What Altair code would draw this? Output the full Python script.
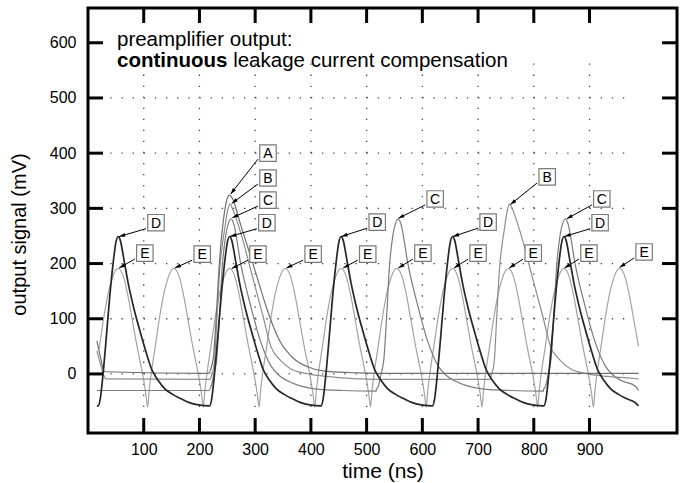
import math
import altair as alt
import pandas as pd

# ---------------- data ----------------
x_ticks = [100, 200, 300, 400, 500, 600, 700, 800, 900]
y_ticks = [0, 100, 200, 300, 400, 500, 600]
grid_rows = [0, 100, 200, 300, 400, 500]
grid_cols = [100, 200, 300, 400, 500, 600, 700, 800, 900]

# pulse peak times (ns)
peaks_A = [254]
peaks_B = [255, 757]
peaks_C = [257, 557, 857]
peaks_D = [54, 254, 454, 654, 854]
peaks_E = [54, 154, 254, 354, 454, 554, 654, 754, 854, 954]

# pulse shapes: time from peak (ns), value (mV)
A_dt = [-38, -34, -29, -24, -19, -12, -5, 0, 5, 20, 45, 68, 90, 115, 140, 170, 230, 300]
A_v = [1, 8, 30, 100, 190, 270, 315, 324, 318, 270, 190, 115, 60, 28, 13, 5, 2, 1]
B_dt = [-36, -33, -28, -24, -19, -10, -4, 0, 4, 19, 40, 59, 73, 90, 109, 135, 168, 230, 300]
B_v = [-10, -2, 22, 94, 184, 261, 298, 308, 300, 256, 177, 105, 50, 25, 9, 1, -4, -9, -10]
C_dt = [-40, -36, -31, -26, -21, -16, -10, -4, 0, 5, 17, 35, 53, 71, 85, 100, 125, 150, 200, 260]
C_v = [-30, -22, 0, 27, 105, 195, 250, 276, 281, 270, 200, 123, 58, 15, -2, -12, -22, -27, -30, -31]
D_dt = [-36, -32, -27, -21, -15, -9, -4, 0, 4, 10, 18, 28, 40, 50, 60, 72, 84, 98, 113, 128, 144, 164]
D_v = [-58, -45, 0, 68, 140, 200, 238, 249, 242, 210, 165, 120, 75, 40, 9, -12, -27, -37, -45, -52, -56, -58]
E_dt = [-47, -44, -40, -34, -26, -18, -10, -5, 0, 5, 10, 18, 26, 34, 42, 47, 50, 53]
E_v = [-60, -28, 5, 45, 100, 145, 175, 187, 191, 187, 175, 140, 95, 50, 10, -18, -38, -60]

# start of the traces (left edge) and baselines
A_start_t = [16, 22, 30];  A_start_v = [60, 32, 4]
B_start_t = [16, 24, 32];  B_start_v = [42, 12, -9]
C_start_t = [16];          C_start_v = [-30]
D_start_t = [16];          D_start_v = [-58]
E_start_t = [];            E_start_v = []
baseline = {"A": 1, "B": -10, "C": -30, "D": -58, "E": None}

# letter labels: letter, arrow tip (t, mV), box centre (t, mV)
lab_letter = ["D", "E", "E", "A", "B", "C", "D", "E", "E", "D", "E", "C", "E",
              "D", "E", "B", "E", "C", "D", "E", "E"]
lab_tip_t = [56, 56, 156, 256, 258, 259, 255, 258, 356, 455, 458, 557, 557,
             655, 657, 758, 756, 859, 855, 855, 954]
lab_tip_v = [249, 192, 192, 326, 309, 283, 249, 191, 192, 249, 192, 282, 192,
             249, 192, 307, 192, 281, 249, 192, 193]
lab_box_t = [122, 102, 205, 323, 323, 323, 321, 305, 404, 519, 502, 623, 601,
             718, 700, 824, 799, 922, 919, 899, 998]
lab_box_v = [274, 219, 217, 400, 355, 315, 274, 217, 217, 275, 217, 317, 219,
             275, 219, 357, 219, 317, 274, 219, 221]

title_line1 = "preamplifier output:"
title_bold = "continuous"
title_rest = "leakage current compensation"

# ---------------- layout ----------------
W, H = 589, 425
XMIN, XMAX = 0, 1057
YMIN, YMAX = -107, 663
T0, T1 = 16, 988
sx = W / (XMAX - XMIN)
sy = H / (YMAX - YMIN)
FONT = "Liberation Sans"

xs = alt.Scale(domain=[XMIN, XMAX], nice=False, zero=False)
ys = alt.Scale(domain=[YMIN, YMAX], nice=False, zero=False)


def build(name, start_t, start_v, peaks, dts, vs):
    pts = list(zip(start_t, start_v))
    for p in peaks:
        for d, v in zip(dts, vs):
            pts.append((p + d, v))
    if baseline[name] is not None:
        pts.append((T1, baseline[name]))
    pts = [(t, v) for t, v in pts if T0 <= t <= T1]
    pts.sort(key=lambda a: a[0])
    return pd.DataFrame({"t": [a[0] for a in pts], "v": [a[1] for a in pts]})


traces = {
    "A": build("A", A_start_t, A_start_v, peaks_A, A_dt, A_v),
    "B": build("B", B_start_t, B_start_v, peaks_B, B_dt, B_v),
    "C": build("C", C_start_t, C_start_v, peaks_C, C_dt, C_v),
    "D": build("D", D_start_t, D_start_v, peaks_D, D_dt, D_v),
    "E": build("E", E_start_t, E_start_v, peaks_E, E_dt, E_v),
}
styles = {"E": ("#a3a3a3", 1.2), "C": ("#7c7c7c", 1.2), "B": ("#8e8e8e", 1.2),
          "A": ("#707070", 1.2), "D": ("#262626", 1.7)}

# grid (dotted lattice)
rows_df = pd.DataFrame({"v": grid_rows, "t0": [20] * len(grid_rows), "t1": [980] * len(grid_rows)})
cols_df = pd.DataFrame({"t": grid_cols, "v0": [-60] * len(grid_cols), "v1": [580] * len(grid_cols)})

base_axes = alt.Chart(pd.DataFrame({"t": [XMIN, XMAX], "v": [YMIN, YMAX]})).mark_point(opacity=0).encode(
    x=alt.X("t:Q", scale=xs, axis=alt.Axis(values=x_ticks, ticks=False, domain=False, grid=False,
                                           labelFont=FONT, labelFontSize=16, labelColor="black",
                                           labelPadding=8, title="time (ns)", titleFont=FONT,
                                           titleFontSize=21, titleFontWeight="normal",
                                           titleColor="black", titlePadding=3)),
    y=alt.Y("v:Q", scale=ys, axis=alt.Axis(values=y_ticks, ticks=False, domain=False, grid=False,
                                           labelFont=FONT, labelFontSize=16, labelColor="black",
                                           labelPadding=12, title="output signal (mV)",
                                           titleFont=FONT, titleFontSize=20,
                                           titleFontWeight="normal", titleColor="black",
                                           titleX=-69, titleY=226, titleBaseline="middle",
                                           titleAlign="center")),
)

grid_h = alt.Chart(rows_df).mark_rule(color="#444", strokeWidth=1.3,
                                      strokeDash=[1.3, 20 * sx - 1.3]).encode(
    x=alt.X("t0:Q", scale=xs, axis=None), x2="t1:Q", y=alt.Y("v:Q", scale=ys, axis=None))
grid_v = alt.Chart(cols_df).mark_rule(color="#444", strokeWidth=1.3,
                                      strokeDash=[1.3, 20 * sy - 1.3]).encode(
    x=alt.X("t:Q", scale=xs, axis=None), y=alt.Y("v0:Q", scale=ys, axis=None), y2="v1:Q")

# inside ticks
tx = pd.DataFrame({"t": x_ticks})
ty = pd.DataFrame({"v": y_ticks})
tick_w = 3
tick_bottom = alt.Chart(tx).mark_rule(color="black", strokeWidth=tick_w).encode(
    x=alt.X("t:Q", scale=xs, axis=None), y=alt.value(H), y2=alt.value(H - 15))
tick_top = alt.Chart(tx).mark_rule(color="black", strokeWidth=tick_w).encode(
    x=alt.X("t:Q", scale=xs, axis=None), y=alt.value(0), y2=alt.value(15))
tick_left = alt.Chart(ty).mark_rule(color="black", strokeWidth=tick_w).encode(
    y=alt.Y("v:Q", scale=ys, axis=None), x=alt.value(0), x2=alt.value(15))
tick_right = alt.Chart(ty).mark_rule(color="black", strokeWidth=tick_w).encode(
    y=alt.Y("v:Q", scale=ys, axis=None), x=alt.value(W), x2=alt.value(W - 15))

# traces
trace_layers = []
for name in ["E", "C", "B", "A", "D"]:
    col, wid = styles[name]
    trace_layers.append(
        alt.Chart(traces[name]).mark_line(color=col, strokeWidth=wid, interpolate="monotone").encode(
            x=alt.X("t:Q", scale=xs, axis=None), y=alt.Y("v:Q", scale=ys, axis=None)))

# labels with arrows
tail_t = [b - 10 / sx for b in lab_box_t]
tail_v = [b - 6 / sy for b in lab_box_v]
angles = []
for tt, tv, at, av in zip(tail_t, tail_v, lab_tip_t, lab_tip_v):
    dx = (at - tt) * sx
    dy = -(av - tv) * sy
    angles.append(math.degrees(math.atan2(dx, -dy)) % 360)
lab_df = pd.DataFrame({"letter": lab_letter, "tip_t": lab_tip_t, "tip_v": lab_tip_v,
                       "box_t": lab_box_t, "box_v": lab_box_v, "tail_t": tail_t,
                       "tail_v": tail_v, "ang": angles})

arrows = alt.Chart(lab_df).mark_rule(color="black", strokeWidth=1).encode(
    x=alt.X("tail_t:Q", scale=xs, axis=None), y=alt.Y("tail_v:Q", scale=ys, axis=None),
    x2="tip_t:Q", y2="tip_v:Q")
heads = alt.Chart(lab_df).mark_point(shape="M0,0L-0.7,2.2L0.7,2.2Z", size=30, filled=True,
                                     color="black", opacity=1).encode(
    x=alt.X("tip_t:Q", scale=xs, axis=None), y=alt.Y("tip_v:Q", scale=ys, axis=None),
    angle=alt.Angle("ang:Q", scale=None))
boxes = alt.Chart(lab_df).mark_square(size=270, fill="white", stroke="#7a7a7a",
                                      strokeWidth=1.2, opacity=1).encode(
    x=alt.X("box_t:Q", scale=xs, axis=None), y=alt.Y("box_v:Q", scale=ys, axis=None))
letters = alt.Chart(lab_df).mark_text(font=FONT, fontSize=14, color="black",
                                      align="center", baseline="middle", dy=1).encode(
    x=alt.X("box_t:Q", scale=xs, axis=None), y=alt.Y("box_v:Q", scale=ys, axis=None),
    text="letter:N")

# annotation text
ann = pd.DataFrame({"t": [52, 52, 52], "v": [605, 567, 567],
                    "txt": [title_line1, title_bold, title_rest]})
fs = 20.5
t1 = alt.Chart(ann.iloc[[0]]).mark_text(font=FONT, fontSize=fs, align="left", baseline="middle",
                                        color="black").encode(
    x=alt.X("t:Q", scale=xs, axis=None), y=alt.Y("v:Q", scale=ys, axis=None), text="txt:N")
t2 = alt.Chart(ann.iloc[[1]]).mark_text(font=FONT, fontSize=fs, fontWeight="bold", align="left",
                                        baseline="middle", color="black").encode(
    x=alt.X("t:Q", scale=xs, axis=None), y=alt.Y("v:Q", scale=ys, axis=None), text="txt:N")
t3 = alt.Chart(ann.iloc[[2]]).mark_text(font=FONT, fontSize=fs, align="left", baseline="middle",
                                        color="black", dx=5.389 * fs + 0.278 * fs).encode(
    x=alt.X("t:Q", scale=xs, axis=None), y=alt.Y("v:Q", scale=ys, axis=None), text="txt:N")

chart = alt.layer(
    base_axes, grid_h, grid_v, *trace_layers, arrows, heads, boxes, letters, t1, t2, t3,
    tick_bottom, tick_top, tick_left, tick_right,
).resolve_axis(x="independent", y="independent").properties(
    width=W, height=H,
    padding={"left": 88, "top": 8, "right": 8, "bottom": 50},
    autosize=alt.AutoSizeParams(type="none"),
    background="white",
).configure_view(stroke="black", strokeWidth=3)

chart.save("out.html", embed_options={"renderer": "svg", "actions": False})
